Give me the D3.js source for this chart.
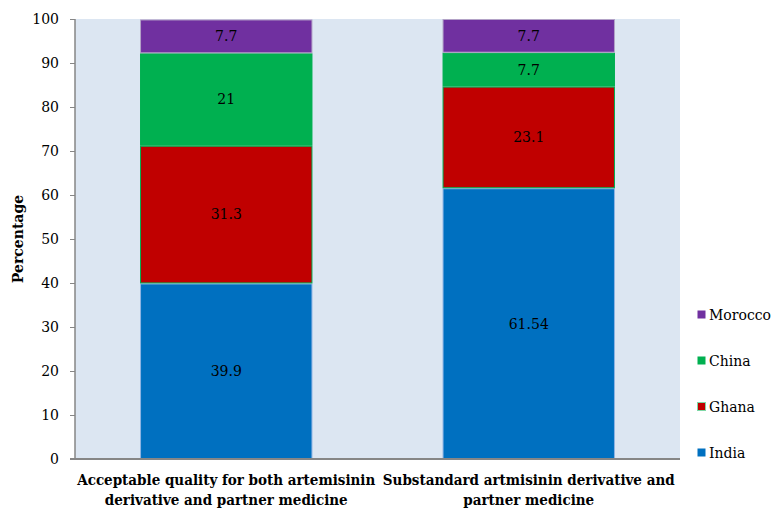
<!DOCTYPE html>
<html>
<head>
<meta charset="utf-8">
<script src="https://cdn.jsdelivr.net/npm/d3@7"></script>
<style>
  body { margin: 0; background: #fff; }
  svg text { font-family: "DejaVu Serif", serif; }
  svg text.xlab { font-family: "DejaVu Serif Condensed", "DejaVu Serif", serif; font-stretch: condensed; }
</style>
</head>
<body>
<svg></svg>
<script>
const categories = [
    ["Acceptable quality for both artemisinin", "derivative and partner medicine"],
    ["Substandard artmisinin derivative and", "partner medicine"]
];
const countries = ["India", "Ghana", "China", "Morocco"];
const india = [39.9, 61.54];
const ghana = [31.3, 23.1];
const china = [21, 7.7];
const morocco = [7.7, 7.7];
const yTicks = [0, 10, 20, 30, 40, 50, 60, 70, 80, 90, 100];

const fills = {India: "#0070c0", Ghana: "#c00000", China: "#00b050", Morocco: "#7030a0"};
const strokes = {India: "#8fb4e3", Ghana: "#00b050", China: "#00b050", Morocco: "#b3a2c7"};

const svgWidth = 771;
const svgHeight = 509;

const svg = d3.select("svg")
    .attr("width", svgWidth)
    .attr("height", svgHeight);

const margin = {top: 19, right: 91, bottom: 50, left: 75};
const width = svgWidth - margin.left - margin.right;
const height = svgHeight - margin.top - margin.bottom;

const rows = categories.map((c, i) => ({
    key: i, India: india[i], Ghana: ghana[i], China: china[i], Morocco: morocco[i]
}));

const stacked = d3.stack().keys(countries)(rows);

const x = d3.scaleBand()
    .domain(rows.map(d => d.key))
    .range([0, width])
    .paddingInner(0.43)
    .paddingOuter(0.215);

const y = d3.scaleLinear().domain([0, 100]).range([height, 0]).clamp(true);

const g = svg.append("g")
    .attr("transform", "translate(" + margin.left + "," + margin.top + ")");

g.append("rect")
    .attr("width", width)
    .attr("height", height)
    .attr("fill", "#dce6f2");

// bars
const layer = g.selectAll(".layer")
    .data(stacked)
    .enter()
    .append("g")
    .attr("class", "layer");

layer.selectAll("rect")
    .data(s => s.map(d => Object.assign(d, {country: s.key})))
    .enter()
    .append("rect")
    .attr("x", d => x(d.data.key) + 0.5)
    .attr("y", d => y(d[1]) + 0.5)
    .attr("width", x.bandwidth() - 1)
    .attr("height", d => y(d[0]) - y(d[1]) - 1)
    .attr("fill", d => fills[d.country])
    .attr("stroke", d => strokes[d.country])
    .attr("stroke-width", 1);

layer.selectAll("text")
    .data(s => s)
    .enter()
    .append("text")
    .attr("x", d => x(d.data.key) + x.bandwidth() / 2)
    .attr("y", d => (y(d[0]) + y(d[1])) / 2)
    .attr("dy", "0.35em")
    .attr("text-anchor", "middle")
    .attr("font-size", 14)
    .attr("fill", "#000")
    .text(d => d.data[d.country]);

// y axis
const yAxis = g.append("g")
    .call(d3.axisLeft(y).tickValues(yTicks).tickSize(5).tickPadding(11));
yAxis.selectAll("text").attr("font-size", 14).attr("fill", "#000").style("font-family", "DejaVu Serif");
yAxis.selectAll("line").attr("stroke", "#868686");
yAxis.select(".domain").attr("stroke", "#868686").attr("stroke-width", 1.5).attr("d", "M0,0V" + height);

// x axis
g.append("line")
    .attr("x1", -5).attr("x2", width)
    .attr("y1", height).attr("y2", height)
    .attr("stroke", "#868686")
    .attr("stroke-width", 2);

const xl = g.selectAll(".xlab")
    .data(categories)
    .enter()
    .append("text")
    .attr("class", "xlab")
    .attr("text-anchor", "middle")
    .attr("font-size", 15)
    .attr("font-weight", "bold")
    .attr("x", (d, i) => x(i) + x.bandwidth() / 2)
    .attr("y", height + 26);
xl.selectAll("tspan")
    .data(d => d)
    .enter()
    .append("tspan")
    .attr("x", function() { return this.parentNode.getAttribute("x"); })
    .attr("dy", (d, i) => i === 0 ? 0 : 20)
    .text(d => d);

svg.append("text")
    .attr("transform", "translate(23," + (margin.top + height / 2) + ") rotate(-90)")
    .attr("text-anchor", "middle")
    .attr("font-size", 14)
    .attr("font-weight", "bold")
    .text("Percentage");

// legend
const legend = svg.selectAll(".legend")
    .data(countries.slice().reverse())
    .enter()
    .append("g")
    .attr("class", "legend")
    .attr("transform", (d, i) => "translate(697," + (315 + i * 46) + ")");

legend.append("rect")
    .attr("x", 0.5).attr("y", -4.5)
    .attr("width", 8).attr("height", 8)
    .attr("fill", d => fills[d])
    .attr("stroke", d => d === "Ghana" ? "#7fd8a7" : "none");

legend.append("text")
    .attr("x", 12)
    .attr("dy", "0.35em")
    .attr("font-size", 14)
    .text(d => d);
</script>
</body>
</html>
